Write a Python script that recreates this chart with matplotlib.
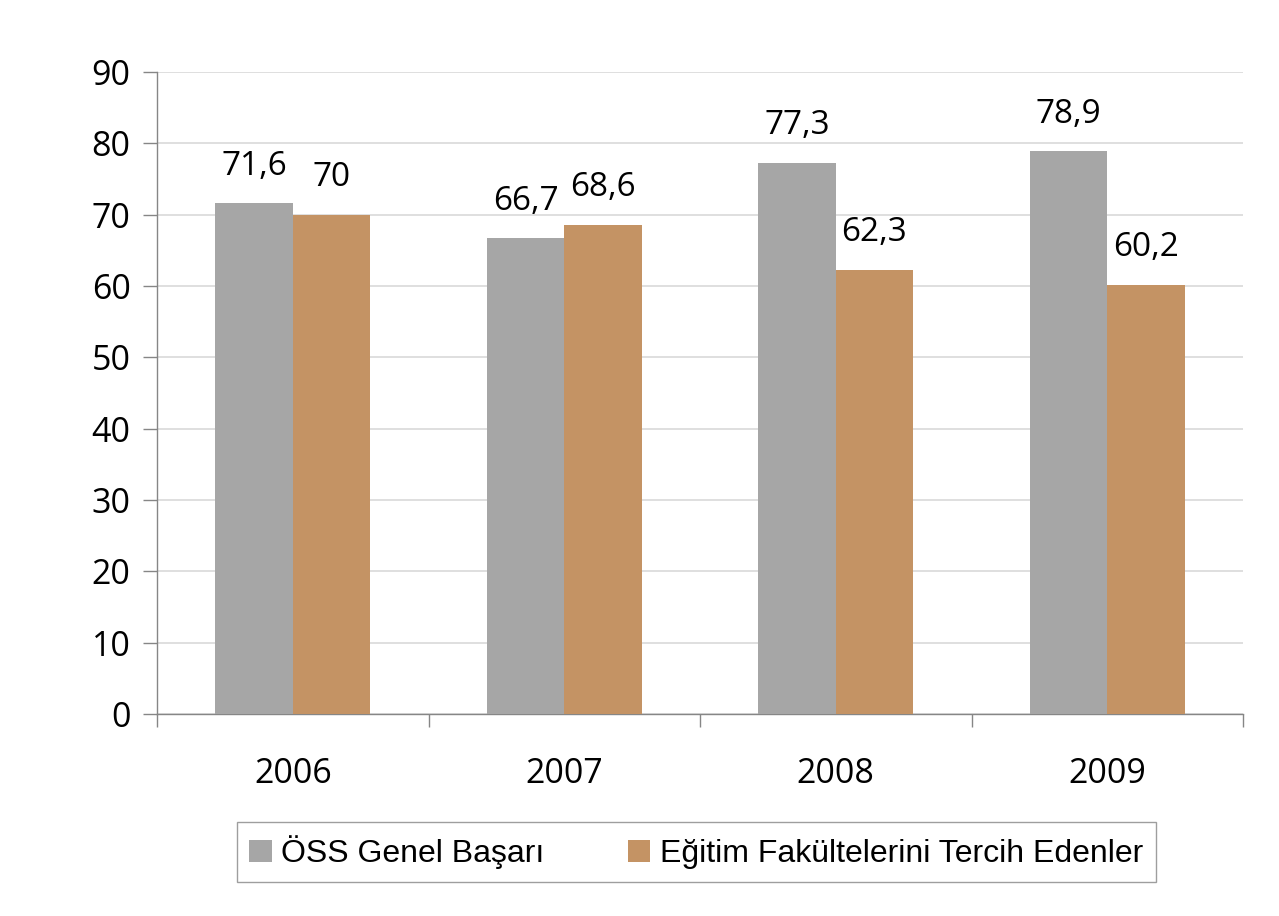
import numpy as np
import matplotlib
matplotlib.use("Agg")
import matplotlib.pyplot as plt
from matplotlib.patches import Patch

years = ["2006", "2007", "2008", "2009"]
oss_genel = [71.6, 66.7, 77.3, 78.9]
egitim_fak = [70.0, 68.6, 62.3, 60.2]
series_names = ["ÖSS Genel Başarı", "Eğitim Fakültelerini Tercih Edenler"]

GRAY = "#A6A6A6"
TAN = "#C49364"
AXIS = "#868686"

plt.rcParams["font.family"] = ["Open Sans", "DejaVu Sans"]

fig = plt.figure(figsize=(12.79, 9.16), dpi=100)
ax = fig.add_axes([157 / 1279, 1 - 714 / 916, (1243 - 157) / 1279, (714 - 72) / 916])

x = np.arange(len(years))
w = 0.285
b1 = ax.bar(x - w / 2, oss_genel, w, color=GRAY, zorder=3)
b2 = ax.bar(x + w / 2, egitim_fak, w, color=TAN, zorder=3)


def fmt(v):
    s = f"{v:.1f}".replace(".", ",")
    return s[:-2] if s.endswith(",0") else s


for bars, vals in ((b1, oss_genel), (b2, egitim_fak)):
    for r, v in zip(bars, vals):
        ax.annotate(fmt(v), (r.get_x() + r.get_width() / 2, v), xytext=(0, 26.5),
                    textcoords="offset points", ha="center", va="center",
                    fontsize=24, color="black")

ax.set_xlim(-0.5, len(years) - 0.5)
ax.set_ylim(0, 90)
ax.set_yticks(np.arange(0, 91, 10))
ax.yaxis.grid(True, color="#D9D9D9", linewidth=1.2, zorder=0)
ax.set_axisbelow(True)

# category labels centred, tick marks on the category boundaries
ax.set_xticks(np.arange(-0.5, len(years), 1.0))
ax.set_xticklabels([])
ax.set_xticks(x, minor=True)
ax.set_xticklabels(years, minor=True, fontsize=24.5)
ax.tick_params(axis="x", which="major", direction="out", length=9, color=AXIS, width=1)
ax.tick_params(axis="x", which="minor", length=0, pad=31)
ax.tick_params(axis="y", direction="out", length=10, color=AXIS, width=1, labelsize=24.5, pad=9)

for s in ("top", "right"):
    ax.spines[s].set_visible(False)
for s in ("left", "bottom"):
    ax.spines[s].set_color(AXIS)
    ax.spines[s].set_linewidth(1)

handles = [Patch(facecolor=GRAY, label=series_names[0]),
           Patch(facecolor=TAN, label=series_names[1])]
leg = fig.legend(handles=handles, loc="center", bbox_to_anchor=(0.5442, 0.0699),
                 ncol=2, frameon=True, fancybox=False, edgecolor=AXIS,
                 prop={"family": "Liberation Sans", "size": 23},
                 handlelength=0.7, handleheight=0.7, handletextpad=0.3,
                 columnspacing=2.6, borderpad=0.4, borderaxespad=0)
leg.get_frame().set_linewidth(1)

fig.savefig("out.png", dpi=100)
